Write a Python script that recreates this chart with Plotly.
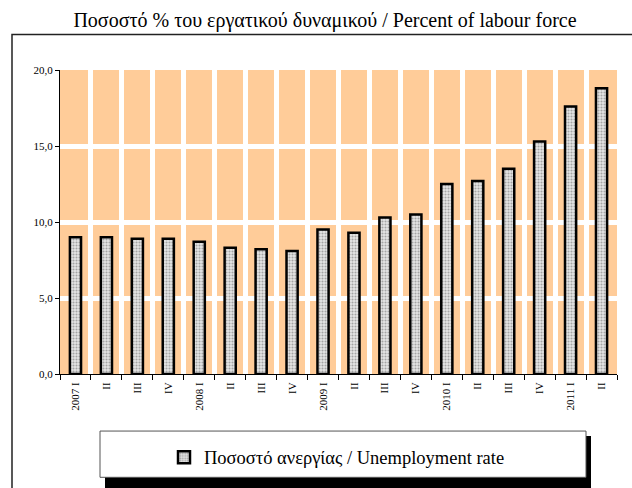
import plotly.graph_objects as go

quarters = ["2007 I", "II", "III", "IV", "2008 I", "II", "III", "IV",
            "2009 I", "II", "III", "IV", "2010 I", "II", "III", "IV",
            "2011 I", "II"]
# unique keys for category axis (labels repeat)
keys = [f"q{i}" for i in range(len(quarters))]
unemployment = [9.0, 9.0, 8.9, 8.9, 8.7, 8.3, 8.2, 8.1,
                9.5, 9.3, 10.3, 10.5, 12.5, 12.7, 13.5, 15.3, 17.6, 18.8]
y_ticks = [0, 5, 10, 15, 20]

title_text = "Ποσοστό % του εργατικού δυναμικού / Percent of labour force"
series_name = "Ποσοστό ανεργίας / Unemployment rate"

W, H = 632, 488
L, R, T, B = 60, 15, 70, 109
pw, ph = W - L - R, H - T - B


def px(x):
    return (x - L) / pw


def py(y):
    return (H - B - y) / ph


FONT = "Liberation Serif, Times New Roman, serif"

fig = go.Figure()
fig.add_trace(go.Bar(
    x=keys, y=unemployment, name=series_name,
    marker=dict(
        color="#c8c8c8",
        line=dict(color="black", width=2.5),
        pattern=dict(shape=".", size=3, solidity=0.4,
                     fgcolor="#a4a4a4", bgcolor="#e6e6e6", fillmode="replace"),
    ),
    showlegend=True,
))

shapes = [
    # outer chart frame (top and left visible)
    dict(type="rect", xref="paper", yref="paper",
         x0=px(12), x1=px(660), y0=py(34), y1=py(520),
         line=dict(color="#222", width=1.5), fillcolor="rgba(0,0,0,0)", layer="below"),
    # legend shadow
    dict(type="rect", xref="paper", yref="paper",
         x0=px(105), x1=px(591), y0=py(442), y1=py(495),
         line=dict(width=0), fillcolor="black", layer="below"),
    # legend box
    dict(type="rect", xref="paper", yref="paper",
         x0=px(100), x1=px(586), y0=py(437), y1=py(484),
         line=dict(color="#555", width=1), fillcolor="white", layer="below"),
]

fig.update_layout(
    width=W, height=H,
    margin=dict(l=L, r=R, t=T, b=B, pad=0),
    paper_bgcolor="white",
    plot_bgcolor="#FFCC99",
    separators=",.",
    font=dict(family=FONT, color="black", size=11),
    title=dict(text=title_text, x=325 / W, xanchor="center", y=1 - 20 / H,
               yanchor="middle", font=dict(family=FONT, size=20, color="black")),
    bargap=0.64,
    showlegend=True,
    legend=dict(x=px(337), y=py(464), xanchor="center", yanchor="middle",
                bgcolor="rgba(0,0,0,0)", borderwidth=0,
                font=dict(family=FONT, size=18.5, color="black"),
                itemwidth=30),
    shapes=shapes,
)

fig.update_xaxes(
    type="category",
    tickmode="array", tickvals=keys, ticktext=quarters,
    tickangle=-90,
    tickson="boundaries",
    ticks="outside", ticklen=5, tickcolor="black", tickwidth=1,
    ticklabelstandoff=3,
    showline=True, linecolor="black", linewidth=1,
    showgrid=True, gridcolor="white", gridwidth=5,
    tickfont=dict(family=FONT, size=11, color="black"),
)
fig.update_yaxes(
    range=[0, 20],
    tickmode="array", tickvals=y_ticks, tickformat=".1f",
    ticks="outside", ticklen=4, tickcolor="black", tickwidth=1,
    showline=True, linecolor="black", linewidth=1,
    showgrid=True, gridcolor="white", gridwidth=5,
    zeroline=False,
    tickfont=dict(family=FONT, size=11, color="black"),
)

fig.write_html("out.html", config={"displayModeBar": False},
               post_script="document.body.style.margin='0';")
